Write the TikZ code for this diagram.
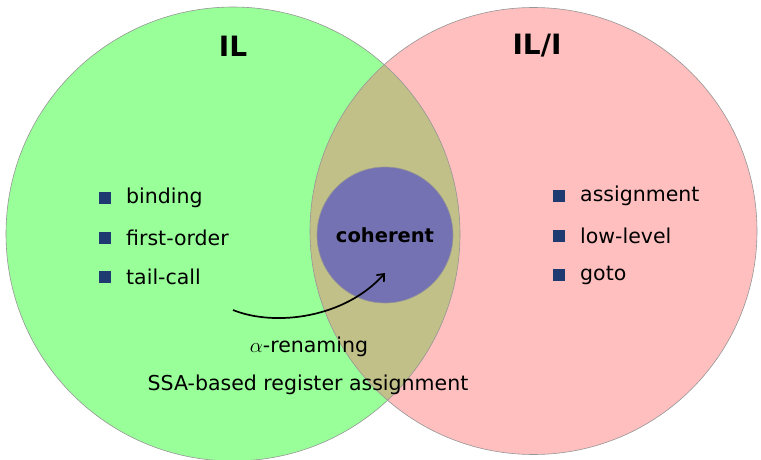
\documentclass[tikz,border=0pt]{standalone}
\usepackage{fontspec}
\setmainfont{DejaVu Sans}
\usetikzlibrary{arrows.meta}
\definecolor{ilgreen}{RGB}{153,255,153}
\definecolor{ilpink}{RGB}{255,191,191}
\definecolor{lensolive}{RGB}{193,192,136}
\definecolor{cohpurple}{RGB}{116,114,178}
\definecolor{bulletblue}{RGB}{31,58,112}
\definecolor{rimgray}{RGB}{150,150,150}
\begin{document}
\begin{tikzpicture}[x=1pt,y=-1pt,
  rim/.style={draw=rimgray,line width=0.6pt},
  title/.style={font=\fontsize{28}{31}\selectfont\bfseries},
  item/.style={font=\fontsize{20.5}{24}\selectfont,anchor=west,inner sep=0pt},
  sq/.style={fill=bulletblue,minimum size=11.5pt,inner sep=0pt},
  note/.style={font=\fontsize{20.5}{24}\selectfont,inner sep=0pt}]
\useasboundingbox (0,0) rectangle (761,460);
% circles
\fill[ilgreen] (233,234) circle[radius=227];
\fill[ilpink] (533.5,231) circle[radius=223.5];
\begin{scope}
  \clip (233,234) circle[radius=227];
  \fill[lensolive] (533.5,231) circle[radius=223.5];
\end{scope}
\draw[rim] (233,234) circle[radius=227];
\draw[rim] (533.5,231) circle[radius=223.5];
\node[circle,minimum size=136pt,inner sep=0pt,fill=cohpurple,draw=rimgray,line width=0.6pt,
  font=\fontsize{19.5}{22}\selectfont\bfseries] (coh) at (385,235) {coherent};
% titles
\node[title] (il) at (233,46) {IL};
\node[title] (ili) at (537,46) {IL/I};
% left items
\node[sq] (b1) at (105,198) {};
\node[item] (t1) at (126,198) {binding};
\node[sq] (b2) at (105,238) {};
\node[item] (t2) at (126,238) {first-order};
\node[sq] (b3) at (105,277) {};
\node[item] (t3) at (126,277) {tail-call};
% right items
\node[sq] (b4) at (559,196) {};
\node[item] (t4) at (580,196) {assignment};
\node[sq] (b5) at (559,236) {};
\node[item] (t5) at (580,236) {low-level};
\node[sq] (b6) at (559,275) {};
\node[item] (t6) at (580,275) {goto};
% bottom notes
\node[note] (alpha) at (309,347) {$\alpha$-renaming};
\node[note] (ssa) at (308,385) {SSA-based register assignment};
% arrow
\coordinate (as) at (233,310);
\coordinate (ae) at (385,273);
\draw[line width=1.7pt,-{Straight Barb[length=6pt,width=10pt]}] (as) .. controls (275,327) and (345,318) .. (ae);
\end{tikzpicture}
\end{document}
